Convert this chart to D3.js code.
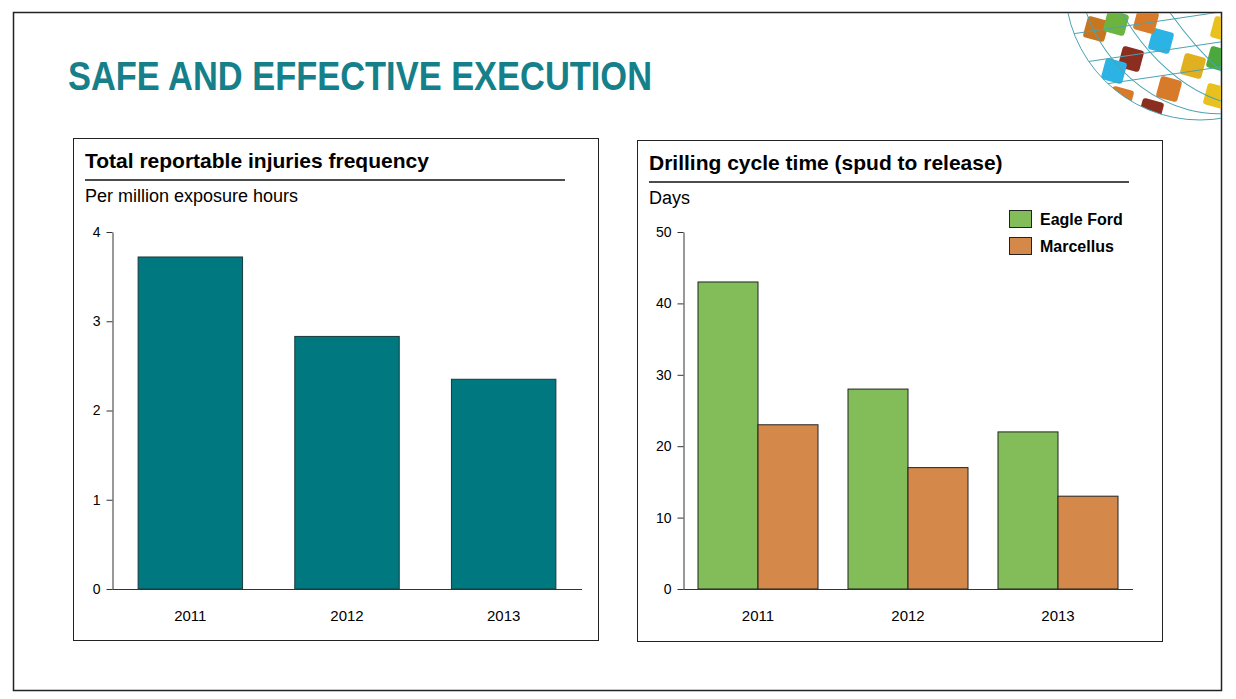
<!DOCTYPE html>
<html><head><meta charset="utf-8">
<script src="https://cdn.jsdelivr.net/npm/d3@7"></script>
<style>body{margin:0;background:#fff;font-family:Arial,"Liberation Sans",sans-serif}</style>
</head><body><svg id="c" width="1236" height="699"></svg>
<script>
const years = ["2011", "2012", "2013"];
const injuries = [3.72, 2.83, 2.35];
const injuryTicks = [0, 1, 2, 3, 4];
const series = ["Eagle Ford", "Marcellus"];
const eagleFord = [43, 28, 22];
const marcellus = [23, 17, 13];
const dayTicks = [0, 10, 20, 30, 40, 50];
const seriesColors = ["#82bd5a", "#d4894a"];

const svg = d3.select("#c");

// slide frame
svg.append("rect").attr("x", 13.5).attr("y", 12.5).attr("width", 1208).attr("height", 678)
  .attr("fill", "none").attr("stroke", "#222").attr("stroke-width", 1.5);

// decorative globe top right
const globe = svg.append("g");
globe.append("clipPath").attr("id", "gc").append("rect").attr("x", 14).attr("y", 13).attr("width", 1207).attr("height", 677);
const gg = globe.append("g").attr("clip-path", "url(#gc)");
const cx = 1200, cy = -15, R = 135;
gg.append("clipPath").attr("id", "ball").append("circle").attr("cx", cx).attr("cy", cy).attr("r", R);
const ball = gg.append("g").attr("clip-path", "url(#ball)");
const tiles = [[1085,18,"#c8751f"],[1105,12,"#6cb33f"],[1120,48,"#8b2e1f"],[1150,30,"#2bb3e6"],[1158,78,"#d77a2a"],[1182,55,"#e0b020"],[1208,48,"#4aa83c"],[1103,60,"#2bb3e6"],[1135,10,"#d77a2a"],[1212,18,"#e8c11f"],[1110,88,"#d77a2a"],[1205,85,"#e8c11f"],[1140,100,"#8b2e1f"]];
tiles.forEach(t => ball.append("rect").attr("x", t[0]).attr("y", t[1]).attr("width", 22).attr("height", 22)
  .attr("rx", 3).attr("fill", t[2]).attr("transform", `rotate(15,${t[0]+11},${t[1]+11})`));
[0.3, 0.6, 0.85].forEach(f => ball.append("ellipse").attr("cx", cx).attr("cy", cy).attr("rx", R * f).attr("ry", R)
  .attr("fill", "none").attr("stroke", "#4ba3b0").attr("stroke-width", 1).attr("transform", `rotate(-35,${cx},${cy})`));
[50, 80, 105].forEach(d => ball.append("line").attr("x1", cx - R).attr("x2", cx + R).attr("y1", cy + d).attr("y2", cy + d - 40)
  .attr("stroke", "#4ba3b0"));
gg.append("circle").attr("cx", cx).attr("cy", cy).attr("r", R).attr("fill", "none").attr("stroke", "#4ba3b0");

svg.append("text").attr("x", 68).attr("y", 90).attr("fill", "#16808a")
  .attr("font-family", "'Liberation Sans Narrow','Arial Narrow',Arial").attr("font-weight", "bold")
  .attr("font-size", 40).attr("textLength", 584).attr("lengthAdjust", "spacingAndGlyphs")
  .text("SAFE AND EFFECTIVE EXECUTION");

function panel(x0, y0, w, h, title, sub) {
  const g = svg.append("g");
  g.append("rect").attr("x", x0 + .5).attr("y", y0 + .5).attr("width", w).attr("height", h)
    .attr("fill", "none").attr("stroke", "#222");
  g.append("text").attr("x", x0 + 12).attr("y", y0 + 30).attr("font-size", 21).attr("font-weight", "bold").text(title);
  g.append("line").attr("x1", x0 + 12).attr("x2", x0 + 492).attr("y1", y0 + 42).attr("y2", y0 + 42).attr("stroke", "#111").attr("stroke-width", 1.5);
  g.append("text").attr("x", x0 + 12).attr("y", y0 + 64).attr("font-size", 18).text(sub);
}
panel(73, 138, 525, 502, "Total reportable injuries frequency", "Per million exposure hours");
panel(637, 140, 525, 501, "Drilling cycle time (spud to release)", "Days");

function axes(g, x, y, ticks, x0, x1) {
  const ya = g.append("g").attr("transform", `translate(${x0},0)`)
    .call(d3.axisLeft(y).tickValues(ticks).tickFormat(d3.format("d")).tickSize(6).tickSizeOuter(0));
  ya.selectAll("text").attr("font-size", 14).attr("font-family", "Arial").attr("dx", -3);
  ya.select(".domain").attr("stroke", "#333");
  ya.selectAll(".tick line").attr("stroke", "#333");
  g.append("line").attr("x1", x0).attr("x2", x1).attr("y1", y(0) + .5).attr("y2", y(0) + .5).attr("stroke", "#333");
  years.forEach(yr => g.append("text").attr("x", x(yr) + x.bandwidth() / 2).attr("y", y(0) + 32)
    .attr("text-anchor", "middle").attr("font-size", 15).text(yr));
}

// left chart
{
  const g = svg.append("g");
  const x = d3.scaleBand().domain(years).range([112, 582]).paddingInner(1/3).paddingOuter(1/6);
  const y = d3.scaleLinear().domain([0, 4]).range([589, 232]);
  g.selectAll("rect").data(injuries).join("rect")
    .attr("x", (d, i) => x(years[i])).attr("width", x.bandwidth())
    .attr("y", d => y(d)).attr("height", d => y(0) - y(d))
    .attr("fill", "#007880").attr("stroke", "#1a3a3c");
  axes(g, x, y, injuryTicks, 112.5, 582);
}

// right chart
{
  const g = svg.append("g");
  const x = d3.scaleBand().domain(years).range([683, 1133]).paddingInner(0.2).paddingOuter(0.1);
  const xs = d3.scaleBand().domain(series).range([0, x.bandwidth()]);
  const y = d3.scaleLinear().domain([0, 50]).range([589, 232]);
  [eagleFord, marcellus].forEach((vals, si) => {
    g.append("g").selectAll("rect").data(vals).join("rect")
      .attr("x", (d, i) => x(years[i]) + xs(series[si])).attr("width", xs.bandwidth())
      .attr("y", d => y(d)).attr("height", d => y(0) - y(d))
      .attr("fill", seriesColors[si]).attr("stroke", "#222");
  });
  axes(g, x, y, dayTicks, 683.5, 1133);
  series.forEach((s, i) => {
    g.append("rect").attr("x", 1009.5).attr("y", 210.5 + i * 27).attr("width", 22).attr("height", 17)
      .attr("fill", seriesColors[i]).attr("stroke", "#222");
    g.append("text").attr("x", 1040).attr("y", 225 + i * 27).attr("font-size", 16).attr("font-weight", "bold").text(s);
  });
}
</script></body></html>
